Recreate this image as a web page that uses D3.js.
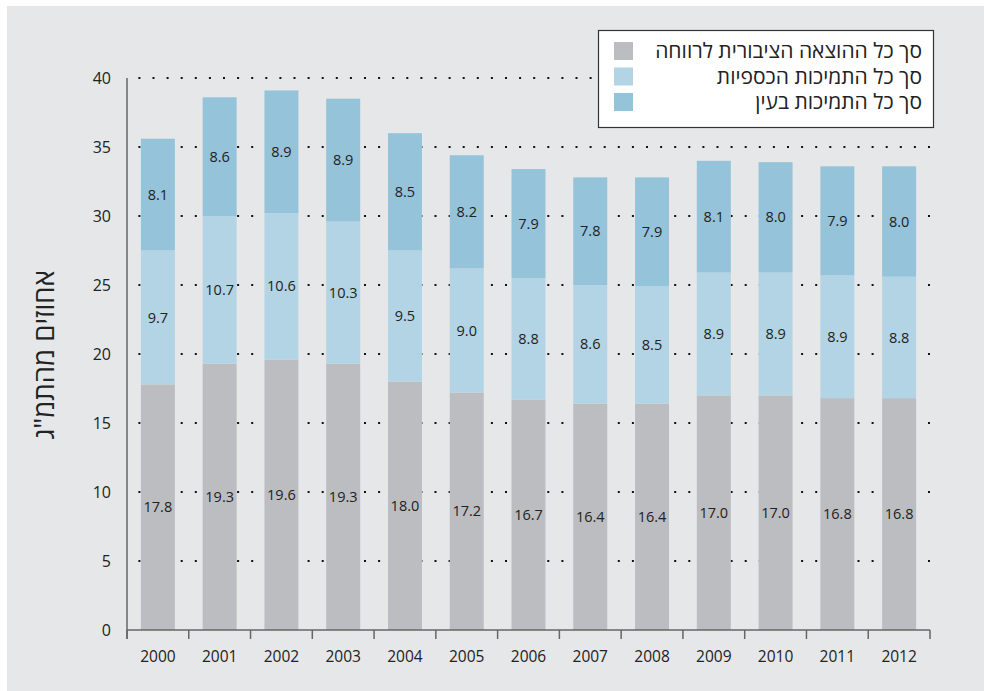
<!DOCTYPE html>
<html><head><meta charset="utf-8">
<script src="https://cdn.jsdelivr.net/npm/d3@7"></script>
<style>body{margin:0;background:#fff}svg{display:block}text{font-family:"Open Sans",sans-serif}</style>
</head><body><svg id="c" width="984" height="691"></svg>
<script>
const years = ["2000","2001","2002","2003","2004","2005","2006","2007","2008","2009","2010","2011","2012"];
const welfare = [17.8,19.3,19.6,19.3,18.0,17.2,16.7,16.4,16.4,17.0,17.0,16.8,16.8];
const cash = [9.7,10.7,10.6,10.3,9.5,9.0,8.8,8.6,8.5,8.9,8.9,8.9,8.8];
const inKind = [8.1,8.6,8.9,8.9,8.5,8.2,7.9,7.8,7.9,8.1,8.0,7.9,8.0];
const seriesNames = ["סך כל ההוצאה הציבורית לרווחה","סך כל התמיכות הכספיות","סך כל התמיכות בעין"];
const yTicks = [0,5,10,15,20,25,30,35,40];
const yTitle = "אחוזים מהתמ\"ג";

const colors = ["#bcbdc0","#b3d4e4","#95c3da"];
const svg = d3.select("#c");
svg.append("rect").attr("x",7).attr("y",6).attr("width",977).attr("height",685).attr("fill","#e6e7e9");

const L=127,R=930,T=78,B=630;
const x = d3.scaleBand().domain(years).range([L,R]).paddingInner(0.45).paddingOuter(0.225);
const y = d3.scaleLinear().domain([0,40]).range([B,T]);

yTicks.filter(d=>d>0).forEach(t=>{
  svg.append("line").attr("x1",R).attr("x2",L).attr("y1",y(t)).attr("y2",y(t))
    .attr("stroke","#111").attr("stroke-width",2).attr("stroke-dasharray","2,12.1");
});

const rows = years.map((yr,i)=>({year:yr,s0:welfare[i],s1:cash[i],s2:inKind[i]}));
const stack = d3.stack().keys(["s0","s1","s2"])(rows);

const g = svg.append("g");
stack.forEach((layer,k)=>{
  g.selectAll(null).data(layer).enter().append("rect")
    .attr("x",d=>x(d.data.year)).attr("width",x.bandwidth())
    .attr("y",d=>y(d[1])).attr("height",d=>y(d[0])-y(d[1]))
    .attr("fill",colors[k]);
  g.selectAll(null).data(layer).enter().append("text")
    .attr("x",d=>x(d.data.year)+x.bandwidth()/2)
    .attr("y",d=>y((d[0]+d[1])/2)).attr("dy","0.35em")
    .attr("text-anchor","middle").attr("font-size",14.5).attr("fill","#222")
    .text(d=>(d[1]-d[0]).toFixed(1));
});

const axisColor="#666";
svg.append("line").attr("x1",L).attr("x2",L).attr("y1",T).attr("y2",B+9).attr("stroke",axisColor).attr("stroke-width",1.5);
svg.append("line").attr("x1",L).attr("x2",R).attr("y1",B).attr("y2",B).attr("stroke",axisColor).attr("stroke-width",1.5);
const step = x.step();
const bounds = years.map((d,i)=>i===0?L:x(d)-x.paddingInner()*step/2).concat([R]);
bounds.forEach(b=>svg.append("line").attr("x1",b).attr("x2",b).attr("y1",B).attr("y2",B+9).attr("stroke",axisColor).attr("stroke-width",1.5));

svg.selectAll(null).data(yTicks).enter().append("text")
  .attr("x",111).attr("y",d=>y(d)).attr("dy","0.35em").attr("text-anchor","end")
  .attr("font-size",16).attr("fill","#222").text(d=>d);
svg.selectAll(null).data(years).enter().append("text")
  .attr("x",d=>x(d)+x.bandwidth()/2).attr("y",657).attr("dy","0.35em").attr("text-anchor","middle")
  .attr("font-size",15.5).attr("fill","#222").text(d=>d);

svg.append("text").attr("transform","translate(44,355) rotate(-90)").attr("text-anchor","middle")
  .attr("dy","0.35em").attr("font-size",27.5).attr("fill","#222").attr("direction","rtl").text(yTitle);

svg.append("rect").attr("x",598.5).attr("y",30.5).attr("width",335).attr("height",97).attr("fill","#fff").attr("stroke","#333").attr("stroke-width",1.2);
seriesNames.forEach((n,i)=>{
  const cy = 51+i*25.5;
  svg.append("rect").attr("x",614).attr("y",cy-9).attr("width",19).attr("height",18).attr("fill",colors[i]);
  svg.append("text").attr("x",922).attr("y",cy).attr("dy","0.35em").attr("text-anchor","start")
    .attr("direction","rtl").attr("font-size",21).attr("fill","#222").text(n);
});
</script></body></html>
